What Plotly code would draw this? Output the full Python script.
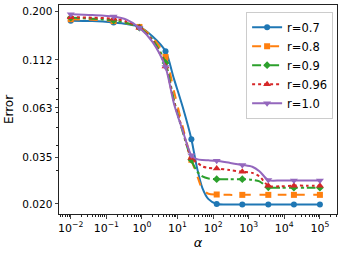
import plotly.graph_objects as go

ALPHA = [0.01, 0.04, 0.16, 0.37, 0.85, 2.0, 4.6, 7.9, 14, 24.5, 35, 50, 74, 126,
         290, 660, 1260, 2000, 3550, 7900, 18600, 42700, 100000]
# alpha values that carry a marker
MARK_ALPHA = [0.01, 0.16, 0.85, 4.6, 24.5, 126, 660, 3550, 18600, 100000]

R07 = [0.179, 0.178, 0.175, 0.172, 0.166, 0.148, 0.124, 0.0895, 0.0637, 0.0434, 0.031, 0.0242,
       0.0212, 0.0200, 0.0199, 0.0199, 0.0199, 0.0199, 0.0199, 0.0199, 0.0199, 0.0199, 0.0199]
R08 = [0.182, 0.181, 0.178, 0.1735, 0.166, 0.146, 0.116, 0.0775, 0.0503, 0.0339, 0.0283, 0.0239,
       0.0226, 0.0224, 0.0223, 0.0223, 0.0223, 0.0223, 0.0223, 0.0223, 0.0223, 0.0223, 0.0223]
R09 = [0.1854, 0.183, 0.1795, 0.174, 0.1645, 0.1425, 0.108, 0.0695, 0.0473, 0.0339, 0.0296, 0.0278,
       0.0271, 0.0269, 0.0269, 0.0269, 0.0267, 0.0262, 0.0244, 0.0243, 0.0243, 0.0243, 0.0243]
R096 = [0.1866, 0.1854, 0.183, 0.1768, 0.1645, 0.1405, 0.1036, 0.068, 0.0485, 0.0346, 0.0329, 0.0313,
        0.0308, 0.0306, 0.0300, 0.0294, 0.0290, 0.0278, 0.0249, 0.0247, 0.0249, 0.0249, 0.0249]
R10 = [0.1934, 0.1915, 0.188, 0.181, 0.1645, 0.1385, 0.1027, 0.0665, 0.048, 0.0358, 0.0342, 0.0338,
       0.0337, 0.0335, 0.0327, 0.0319, 0.0312, 0.0296, 0.0266, 0.0265, 0.0265, 0.0265, 0.0265]

NAMES = ["r=0.7", "r=0.8", "r=0.9", "r=0.96", "r=1.0"]
SERIES = [R07, R08, R09, R096, R10]
COLORS = ["#1f77b4", "#ff7f0e", "#2ca02c", "#d62728", "#9467bd"]
DASHES = ["solid", "dash", "dashdot", "dot", "solid"]
SYMBOLS = ["circle", "square", "diamond", "triangle-up", "triangle-down"]

Y_TICKS = [0.020, 0.035, 0.063, 0.112, 0.200]
Y_TICK_TEXT = ["0.020", "0.035", "0.063", "0.112", "0.200"]
X_TICKS = [1e-2, 1e-1, 1e0, 1e1, 1e2, 1e3, 1e4, 1e5]
X_TICK_TEXT = ["10<sup>\u22122</sup>", "10<sup>\u22121</sup>", "10<sup>0</sup>", "10<sup>1</sup>",
               "10<sup>2</sup>", "10<sup>3</sup>", "10<sup>4</sup>", "10<sup>5</sup>"]

fig = go.Figure()
for name, ys, c, d, s in zip(NAMES, SERIES, COLORS, DASHES, SYMBOLS):
    msize = 7 if s in ("triangle-up", "triangle-down") else 6
    fig.add_trace(go.Scatter(x=ALPHA, y=ys, mode="lines", showlegend=False, legendgroup=name,
                             line=dict(color=c, width=2, dash=d, shape="spline", smoothing=0.8),
                             hoverinfo="skip"))
    mx = [a for a in ALPHA if a in MARK_ALPHA]
    my = [y for a, y in zip(ALPHA, ys) if a in MARK_ALPHA]
    fig.add_trace(go.Scatter(x=mx, y=my, mode="markers", showlegend=False, legendgroup=name,
                             marker=dict(color=c, symbol=s, size=msize)))
    fig.add_trace(go.Scatter(x=[None], y=[None], mode="lines+markers", name=name, legendgroup=name,
                             line=dict(color=c, width=2, dash=d),
                             marker=dict(color=c, symbol=s, size=msize)))

minor_vals = [d * 10 ** e for e in range(-3, 6) for d in range(2, 10)]

fig.update_layout(
    width=346, height=253,
    margin=dict(l=59, r=9, t=5, b=39),
    paper_bgcolor="white", plot_bgcolor="white",
    font=dict(family="DejaVu Sans", size=11, color="black"),
    legend=dict(x=0.986, y=0.968, xanchor="right", yanchor="top",
                bgcolor="rgba(255,255,255,0.8)", bordercolor="#cccccc", borderwidth=1,
                font=dict(size=11.5), itemwidth=30, tracegroupgap=0),
    xaxis=dict(type="log", range=[-2.33, 5.48], tickvals=X_TICKS, ticktext=X_TICK_TEXT,
               ticks="outside", ticklen=3.5, tickwidth=0.8, showgrid=False, zeroline=False,
               showline=True, linecolor="#222", linewidth=1, mirror=True,
               tickfont=dict(size=11),
               minor=dict(tickvals=minor_vals, ticks="outside", ticklen=2, tickwidth=0.6,
                          tickcolor="#222"),
               title=dict(text="<i>α</i>", font=dict(size=13), standoff=4)),
    yaxis=dict(type="log", range=[-1.751, -0.666], tickvals=Y_TICKS, ticktext=Y_TICK_TEXT,
               ticks="outside", ticklen=3.5, tickwidth=0.8, showgrid=False, zeroline=False,
               showline=True, linecolor="#222", linewidth=1, mirror=True,
               tickfont=dict(size=10.5),
               minor=dict(tickvals=minor_vals, ticks="outside", ticklen=2, tickwidth=0.6,
                          tickcolor="#222"),
               title=dict(text="Error", font=dict(size=12), standoff=6)),
)

fig.write_html("out.html", config={"displayModeBar": False},
               post_script="document.body.style.margin='0';document.body.style.padding='0';")
